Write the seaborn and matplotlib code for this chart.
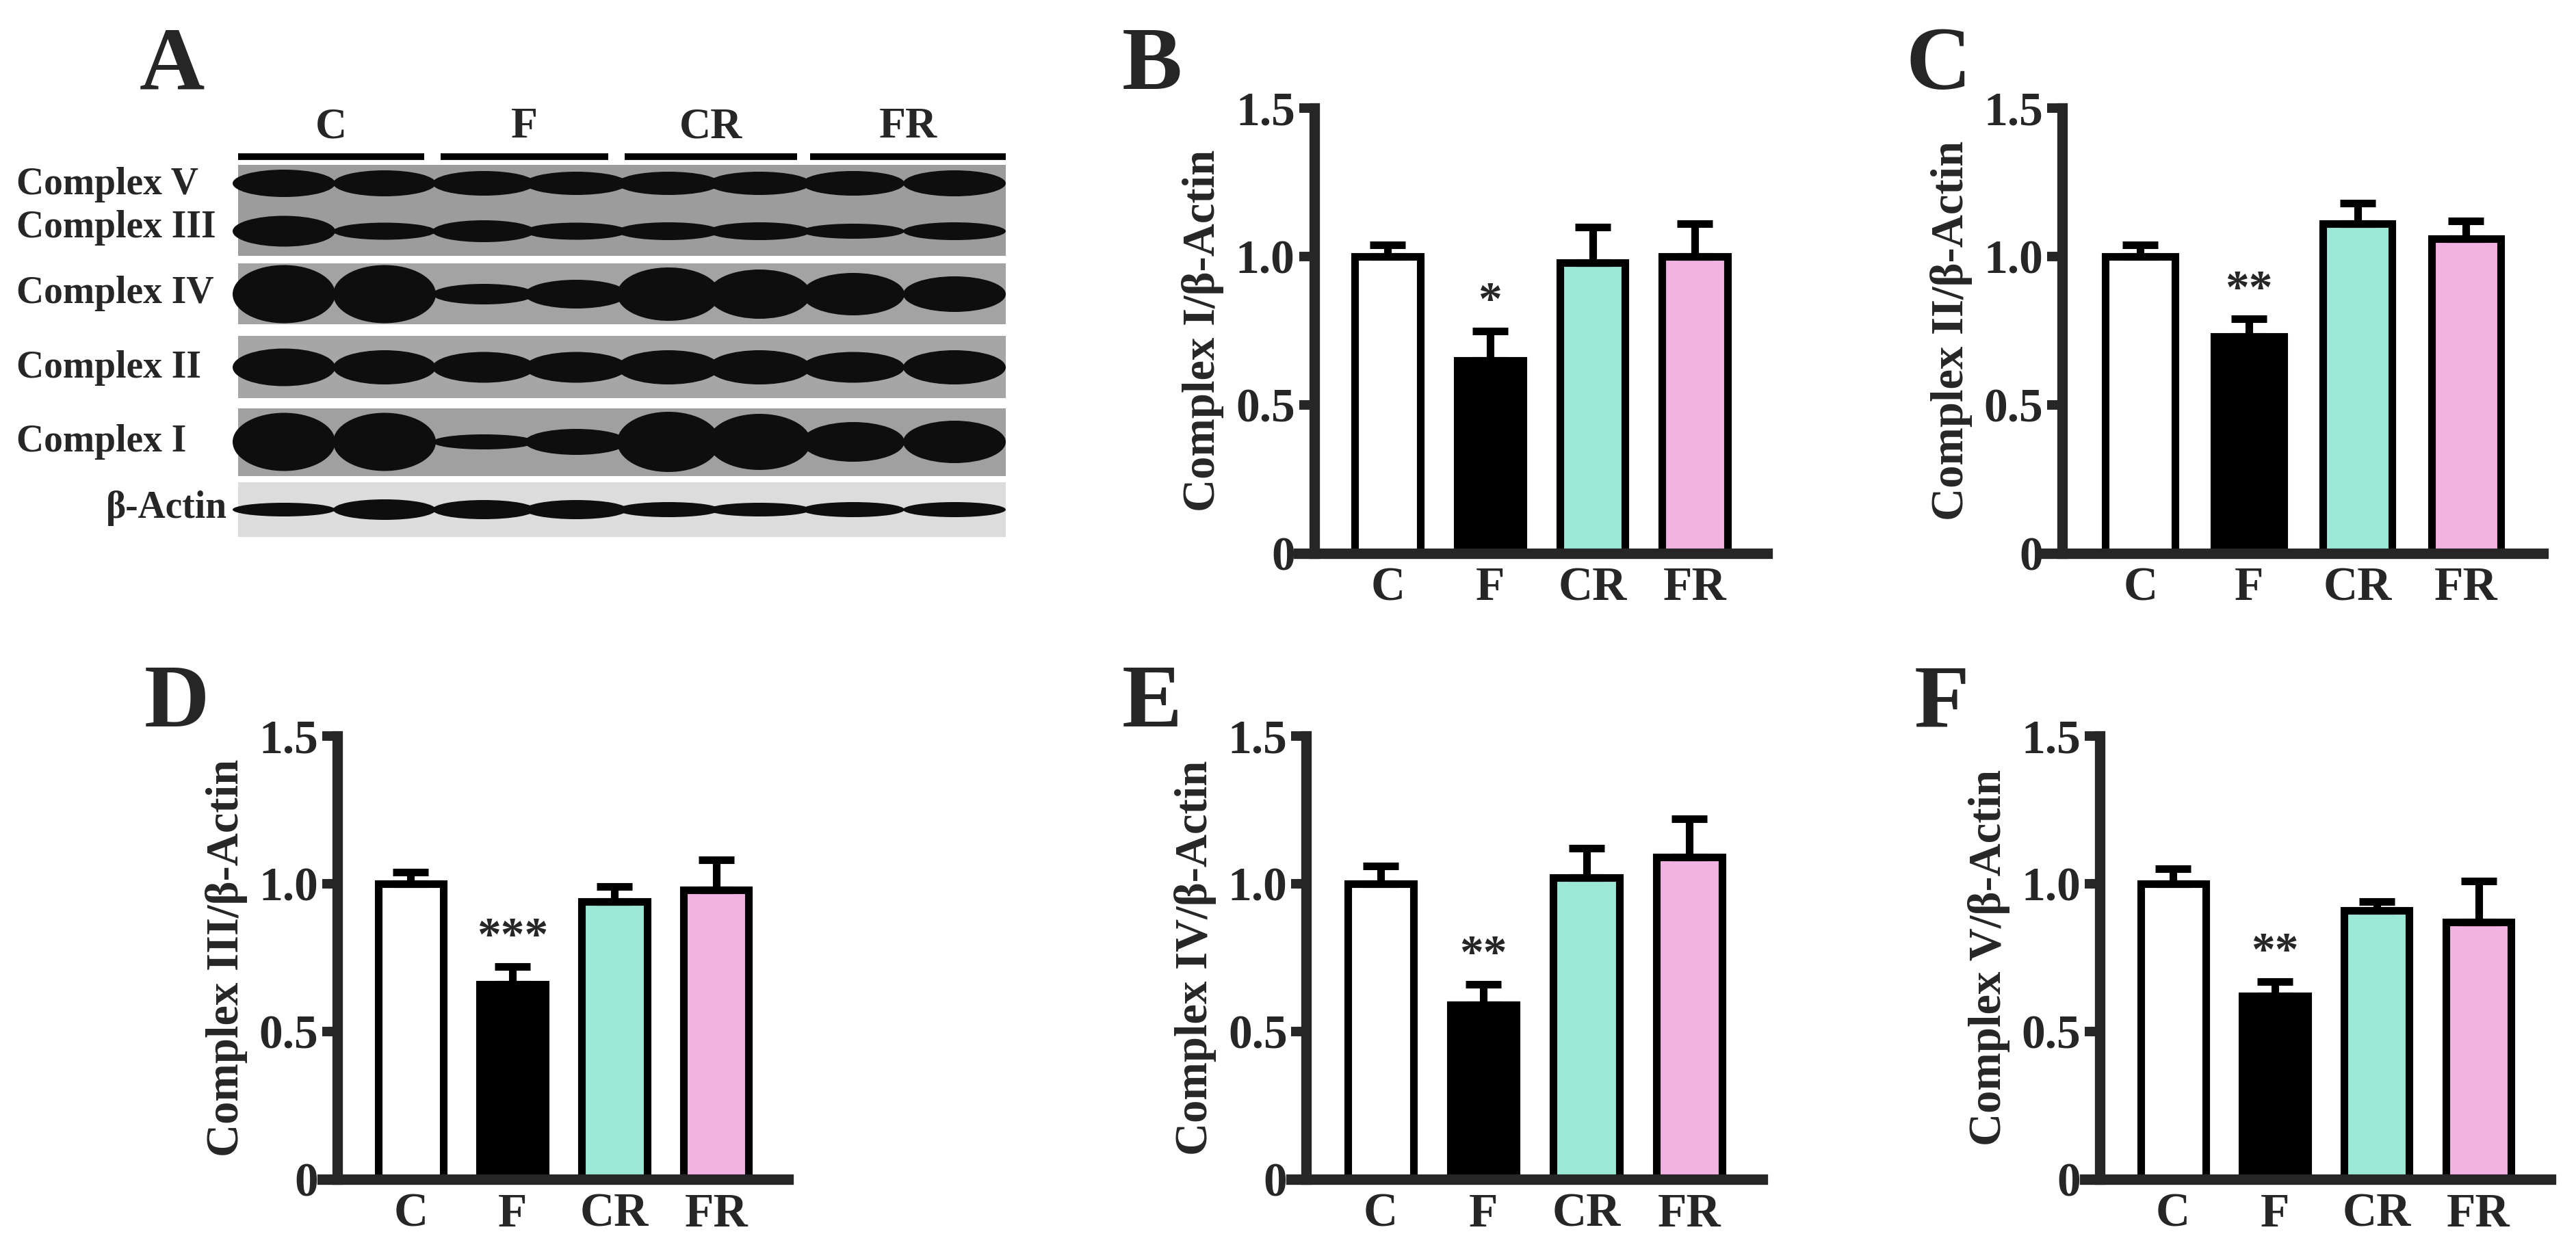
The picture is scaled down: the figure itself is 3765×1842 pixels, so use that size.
import numpy as np
import pandas as pd
import matplotlib
matplotlib.use('Agg')
import matplotlib.pyplot as plt
from matplotlib.patches import Rectangle, Ellipse
import seaborn as sns

# Datos
grupos = ['C', 'F', 'CR', 'FR']
colores = ['#ffffff', '#000000', '#8ff5dc', '#fca8e8']

media_b = [1.00, 0.65, 0.98, 1.00]
err_b = [0.04, 0.10, 0.12, 0.11]
media_c = [1.00, 0.73, 1.11, 1.06]
err_c = [0.04, 0.06, 0.07, 0.06]
media_d = [1.00, 0.66, 0.94, 0.98]
err_d = [0.04, 0.06, 0.05, 0.10]
media_e = [1.00, 0.59, 1.02, 1.09]
err_e = [0.06, 0.07, 0.10, 0.13]
media_f = [1.00, 0.62, 0.91, 0.87]
err_f = [0.05, 0.05, 0.03, 0.14]

etiquetas_y = ['Complex I/β-Actin', 'Complex II/β-Actin', 'Complex III/β-Actin',
               'Complex IV/β-Actin', 'Complex V/β-Actin']
estrellas = ['*', '**', '***', '**', '**']

# Western blot (panel A): intensidad aproximada de las bandas por carril
bandas_v = [40, 38, 36, 34, 34, 34, 36, 38]
bandas_iii = [45, 25, 32, 25, 26, 26, 22, 26]
bandas_iv = [85, 85, 30, 42, 78, 72, 62, 52]
bandas_ii = [55, 50, 45, 45, 50, 50, 45, 50]
bandas_i = [85, 85, 22, 38, 88, 82, 58, 62]
bandas_actina = [20, 30, 28, 28, 22, 20, 22, 22]

sns.set_style('ticks')
plt.rcParams['font.family'] = ['Liberation Serif', 'DejaVu Serif']
plt.rcParams['font.weight'] = 'bold'

fig = plt.figure(figsize=(37.66, 18.42), dpi=100)

# ---------- Panel A ----------
ov = fig.add_axes([0, 0, 1, 1])
ov.set_xlim(0, 3766)
ov.set_ylim(1842, 0)
ov.axis('off')

carriles = [415, 562, 707, 842, 977, 1110, 1247, 1395]
tiras = [(241, 374, '#9c9c9c'), (385, 474, '#a3a3a3'), (491, 582, '#a6a6a6'),
         (597, 696, '#a0a0a0'), (705, 785, '#dcdcdc')]
for y0, y1, col in tiras:
    ov.add_patch(Rectangle((348, y0), 1122, y1 - y0, color=col, lw=0))

filas = [(268, bandas_v), (338, bandas_iii), (430, bandas_iv),
         (537, bandas_ii), (646, bandas_i), (745, bandas_actina)]
for yc, alturas in filas:
    for xc, h in zip(carriles, alturas):
        ov.add_patch(Ellipse((xc, yc), 150, h, color='#0e0e0e', lw=0))

for (x0, x1), g in zip([(348, 620), (644, 889), (913, 1165), (1184, 1470)], grupos):
    ov.plot([x0, x1], [229, 229], color='black', lw=7, solid_capstyle='butt')
    ov.text((x0 + x1) / 2, 215, g, ha='center', va='bottom', fontsize=46, fontweight='bold')

nombres = [('Complex V', 270), ('Complex III', 333), ('Complex IV', 429),
           ('Complex II', 538), ('Complex I', 646)]
for n, y in nombres:
    ov.text(24, y, n, ha='left', va='center', fontsize=40, fontweight='bold')
ov.text(332, 743, 'β-Actin', ha='right', va='center', fontsize=40, fontweight='bold')

# ---------- Paneles B-F ----------
posiciones = [[0.504, 0.561, 0.182, 0.353], [0.794, 0.561, 0.193, 0.353],
              [0.125, 0.064, 0.181, 0.352], [0.501, 0.064, 0.183, 0.352],
              [0.809, 0.064, 0.181, 0.352]]
medias = [media_b, media_c, media_d, media_e, media_f]
errores = [err_b, err_c, err_d, err_e, err_f]
letras = ['B', 'C', 'D', 'E', 'F']

for pos, m, e, lab, st in zip(posiciones, medias, errores, etiquetas_y, estrellas):
    ax = fig.add_axes(pos)
    df = pd.DataFrame({'grupo': grupos, 'valor': m})
    sns.barplot(data=df, x='grupo', y='valor', hue='grupo', palette=colores,
                edgecolor='black', linewidth=8, width=0.64, legend=False, ax=ax)
    ax.errorbar(range(4), m, yerr=[[0] * 4, e], fmt='none', ecolor='black',
                elinewidth=8, capsize=19, capthick=8, zorder=1)
    ax.text(1, m[1] + e[1] + 0.02, st, ha='center', va='bottom', fontsize=50, fontweight='bold')
    ax.set_xlim(-0.87, 3.71)
    ax.set_ylim(0, 1.5)
    ax.spines['left'].set_position(('data', -0.72))
    ax.spines['left'].set_bounds(0, 1.5)
    for s in ['top', 'right']:
        ax.spines[s].set_visible(False)
    for s in ['left', 'bottom']:
        ax.spines[s].set_linewidth(11)
    ax.set_yticks([0, 0.5, 1.0, 1.5])
    ax.set_yticklabels(['0', '0.5', '1.0', '1.5'])
    ax.tick_params(axis='y', length=16, width=10, labelsize=50, pad=4)
    ax.tick_params(axis='x', length=0, labelsize=50, pad=14)
    for t in ax.get_xticklabels() + ax.get_yticklabels():
        t.set_fontweight('bold')
    ax.set_xlabel('')
    ax.set_ylabel(lab, fontsize=48, fontweight='bold', labelpad=12)
    ax.set_facecolor('none')

coords_letras = [(1640, 130), (2786, 130), (211, 1062), (1640, 1062), (2798, 1062)]
for (x, y), l in zip(coords_letras, letras):
    ov.text(x, y, l, ha='left', va='baseline', fontsize=95, fontweight='bold')
ov.text(204, 130, 'A', ha='left', va='baseline', fontsize=95, fontweight='bold')

fig.savefig('out.png', dpi=100)
